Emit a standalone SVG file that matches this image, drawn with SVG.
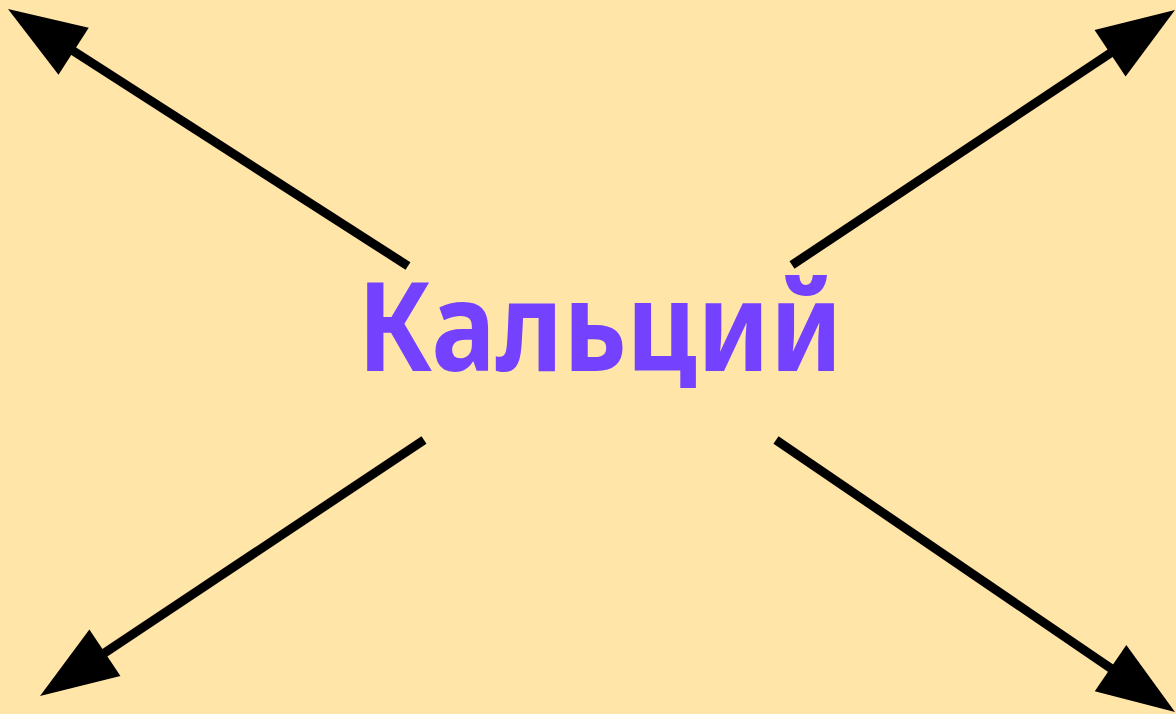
<svg xmlns="http://www.w3.org/2000/svg" width="1176" height="714" viewBox="0 0 1176 714">
<style>
.conn{stroke:#000;stroke-width:9;fill:none;marker-end:url(#ah)}
.lbl{font-family:"Comic Sans MS","Noto Sans","Open Sans",sans-serif;font-weight:bold;font-size:124px;fill:#7442FF}
</style>
<defs>
<marker id="ah" markerUnits="userSpaceOnUse" markerWidth="80" markerHeight="56" refX="10" refY="28" orient="auto" overflow="visible">
<path d="M0,0 L78,28 L0,56 z" fill="#000"/>
</marker>
</defs>
<rect width="1176" height="714" fill="#FFE6A8"/>
<g id="connectors">
<line class="conn" x1="408" y1="266" x2="65.2" y2="45.8"/>
<line class="conn" x1="792" y1="265" x2="1118.4" y2="47.7"/>
<line class="conn" x1="424" y1="440" x2="96.6" y2="658.3"/>
<line class="conn" x1="776" y1="440" x2="1118.8" y2="673.7"/>
</g>
<g id="node-calcium">
<text class="lbl" x="600" y="371" text-anchor="middle" textLength="485" lengthAdjust="spacingAndGlyphs">Кальций</text>
</g>
</svg>
